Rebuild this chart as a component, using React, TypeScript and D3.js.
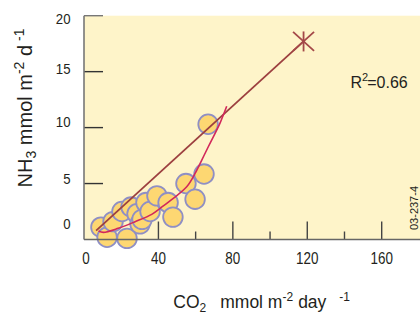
import React from "react";
import * as d3 from "d3";

// Data
const co2 = [9.1, 12.4, 23.1, 15.6, 20.4, 25.3, 28.5, 30.1, 31.2, 33.3, 35.5, 39.2, 45.2, 47.8, 54.8, 59.7, 64.5, 66.7];
const nh3 = [1.1, 0.2, 0.1, 1.6, 2.5, 2.9, 2.3, 1.4, 1.8, 3.3, 2.5, 3.9, 3.3, 2.0, 5.0, 3.6, 5.85, 10.3];

const curveX = [7.8, 10.4, 18.4, 27.4, 36.4, 40.9, 48, 55.2, 59.7, 63.3, 66.8, 69.5, 73.1, 76.7];
const curveY = [0.76, 0.64, 1.0, 1.59, 2.25, 2.79, 3.68, 4.71, 5.9, 7.1, 8.29, 9.18, 10.4, 11.9];

const regX = [6.5, 118];
const regY = [0.8, 17.7];
const starX = 118;
const starY = 17.7;

const xMajorTicks = [40, 80, 120, 160];
const xMinorTicks = [20, 60, 100, 140];
const xTickLabels = [0, 40, 80, 120, 160];
const yTicks = [5, 10, 15, 20];
const yTickLabels = ["0", "5", "10", "15", "20"];
// the reference's y labels sit slightly off their ticks; anchor values in data units
const yTickLabelAt = [1.4, 5.4, 10.5, 15.25, 19.7];

const r2Text = "0.66";
const stamp = "03-237-4";

export default function App() {
  const x = d3.scaleLinear().domain([0, 160]).range([84, 381.7]);
  const y = d3.scaleLinear().domain([0, 20]).range([239.5, 15.7]);

  const curvePts: [number, number][] = curveX.map((v, i) => [x(v), y(curveY[i])]);
  const curvePath = d3.line().curve(d3.curveCatmullRom.alpha(0.5))(curvePts) || "";
  const regPath = d3.line()(regX.map((v, i) => [x(v), y(regY[i])] as [number, number])) || "";

  const sx = x(starX);
  const sy = y(starY);
  const font = "'Liberation Sans', Arial, sans-serif";
  const textCol = "#231f20";

  return (
    <svg width={420} height={316} style={{ position: "absolute", left: 0, top: 0 }} fontFamily={font}>
      <rect x={0} y={0} width={420} height={316} fill="#ffffff" />
      <rect x={x(0)} y={y(20)} width={420 - x(0)} height={y(0) - y(20)} fill="#fef4c9" />

      {/* x ticks */}
      {xMinorTicks.map((t) => (
        <line key={"mi" + t} x1={x(t)} x2={x(t)} y1={y(0)} y2={y(0) - 8} stroke="#444" strokeWidth={1.4} />
      ))}
      {xMajorTicks.map((t) => (
        <line key={"ma" + t} x1={x(t)} x2={x(t)} y1={y(0)} y2={y(0) - 18} stroke="#444" strokeWidth={1.4} />
      ))}
      {/* y ticks */}
      {yTicks.map((t) => (
        <line key={"yt" + t} x1={x(0)} x2={x(0) + 19} y1={y(t)} y2={y(t)} stroke={t === 20 ? "#777" : "#333"} strokeWidth={1.4} />
      ))}

      {/* points */}
      {co2.map((v, i) => (
        <circle key={"p" + i} cx={x(v)} cy={y(nh3[i])} r={9.8} fill="#fdd772" stroke="#8f8fc4" strokeWidth={1.8} />
      ))}

      {/* axes lines */}
      <line x1={x(0)} x2={x(0)} y1={y(20)} y2={y(0)} stroke="#777" strokeWidth={1.6} />
      <line x1={x(0)} x2={420} y1={y(0)} y2={y(0)} stroke="#666" strokeWidth={1.6} />

      {/* lines */}
      <path d={regPath} fill="none" stroke="#9c3f3f" strokeWidth={1.8} />
      <path d={curvePath} fill="none" stroke="#d2285a" strokeWidth={1.6} />
      <g stroke="#a44848" strokeWidth={1.8}>
        <line x1={sx} x2={sx} y1={sy - 10} y2={sy + 10} />
        <line x1={sx - 10.5} x2={sx + 10.5} y1={sy - 9.5} y2={sy + 9.5} />
        <line x1={sx + 10.5} x2={sx - 10.5} y1={sy - 9.5} y2={sy + 9.5} />
      </g>

      {/* x tick labels */}
      {xTickLabels.map((t) => (
        <text key={"xl" + t} transform={`translate(${x(t) + (t === 0 ? 2 : 0)},263.5) scale(0.84,1)`} textAnchor="middle" fontSize={16} fill={textCol}>
          {t}
        </text>
      ))}
      {/* y tick labels */}
      {yTickLabels.map((t, i) => (
        <text key={"yl" + t} transform={`translate(70.5,${y(yTickLabelAt[i]) + 5.4}) scale(0.88,1)`} textAnchor="end" fontSize={15} fill={textCol}>
          {t}
        </text>
      ))}

      {/* R^2 */}
      <text x={350.5} y={87.7} fontSize={16} fill={textCol}>
        R<tspan fontSize={11} dy={-6.5}>2</tspan>
        <tspan dy={6.5} dx={-1}>={r2Text}</tspan>
      </text>

      {/* stamp */}
      <text transform="translate(418,208) rotate(-90)" textAnchor="middle" fontSize={11} fill={textCol}>
        {stamp}
      </text>

      {/* y title */}
      <text transform="translate(31.7,108) rotate(-90)" textAnchor="middle" fontSize={20} fill={textCol}>
        NH<tspan fontSize={14} dy={4}>3</tspan>
        <tspan dy={-4}> mmol m</tspan>
        <tspan fontSize={14} dy={-8}>-2</tspan>
        <tspan dy={8}> d</tspan>
        <tspan fontSize={14} dy={-8}> -1</tspan>
      </text>

      {/* x title */}
      <text x={173.3} y={308} fontSize={17.5} fill={textCol}>
        CO<tspan fontSize={12} dy={4}>2</tspan>
        <tspan dy={-4} dx={14}>mmol m</tspan>
        <tspan fontSize={12} dy={-7}>-2</tspan>
        <tspan dy={7} dx={5}>day</tspan>
        <tspan fontSize={12} dy={-7} dx={13}>-1</tspan>
      </text>
    </svg>
  );
}
